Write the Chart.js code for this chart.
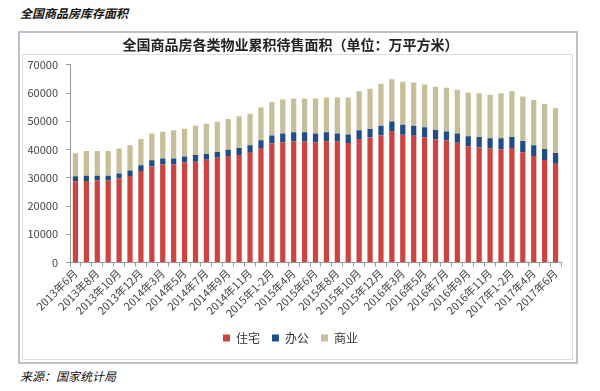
<!DOCTYPE html>
<html>
<head>
<meta charset="utf-8">
<script src="https://cdn.jsdelivr.net/npm/chart.js@4"></script>
<style>
  body { margin: 0; background: #fff; width: 600px; height: 391px; position: relative; overflow: hidden;
         font-family: 'Noto Sans CJK SC', sans-serif; }
  #heading { position: absolute; left: 20px; top: 4px; font-size: 12px; font-weight: bold; font-style: italic; color: #111; }
  #frame { position: absolute; left: 18px; top: 31px; width: 556px; height: 329px; border: 2px solid #b9c1cd; }
  #inner { position: absolute; left: 22px; top: 54px; width: 549px; height: 304px; border: 1px solid #dcdcdc; pointer-events: none; }
  #wrap { position: absolute; left: 20px; top: 33px; width: 556px; height: 329px; }
  #source { position: absolute; left: 20px; top: 367px; font-size: 12px; font-style: italic; color: #111; }
</style>
</head>
<body>
<div id="heading">全国商品房库存面积</div>
<div id="frame"></div>
<div id="inner"></div>
<div id="wrap"><canvas id="stockChart"></canvas></div>
<div id="source">来源：国家统计局</div>
<script>
const months = [
    '2013年6月', '2013年7月', '2013年8月', '2013年9月', '2013年10月', '2013年11月', '2013年12月',
    '2014年1-2月', '2014年3月', '2014年4月', '2014年5月', '2014年6月', '2014年7月', '2014年8月',
    '2014年9月', '2014年10月', '2014年11月', '2014年12月',
    '2015年1-2月', '2015年3月', '2015年4月', '2015年5月', '2015年6月', '2015年7月', '2015年8月',
    '2015年9月', '2015年10月', '2015年11月', '2015年12月',
    '2016年1-2月', '2016年3月', '2016年4月', '2016年5月', '2016年6月', '2016年7月', '2016年8月',
    '2016年9月', '2016年10月', '2016年11月', '2016年12月',
    '2017年1-2月', '2017年3月', '2017年4月', '2017年5月', '2017年6月'
];

// 住宅
const housing = [
    28800, 28900, 29000, 29000, 29750, 30600, 32400,
    34000, 34700, 34700, 35400, 35700, 36400, 37100,
    37700, 38100, 39100, 40500,
    42100, 42600, 42900, 42900, 42600, 42900, 42900,
    42300, 43700, 44300, 45000,
    46600, 45200, 44900, 44300, 43600, 43200, 42400,
    41200, 40700, 40400, 40100,
    40500, 39000, 37700, 36300, 35000
];

// 办公
const office = [
    1770, 1800, 1700, 1700, 1750, 2000, 2000,
    2200, 2100, 2100, 2100, 2400, 2000, 2000,
    2200, 2400, 2400, 2800,
    2900, 3100, 3200, 3200, 3100, 3200, 2800,
    3000, 3100, 3000, 3400,
    3300, 3600, 3500, 3600, 3300, 3200, 3300,
    3500, 3700, 3600, 3900,
    3900, 4000, 3800, 3900, 3800
];

// 商业
const commercial = [
    8130, 8800, 8800, 8800, 8900, 8900, 9300,
    9500, 9500, 10000, 9900, 10300, 10700, 10700,
    10900, 11300, 11200, 11600,
    11800, 12000, 12000, 12000, 12400, 12300, 12700,
    13100, 13800, 14200, 14900,
    15000, 15200, 15300, 15100, 15300, 15500, 15500,
    15500, 15500, 15400, 15900,
    16200, 15800, 16000, 15900, 15800
];

const yTicks = [0, 10000, 20000, 30000, 40000, 50000, 60000, 70000];

const fontFamily = "'Noto Sans CJK SC', sans-serif";

new Chart(document.getElementById('stockChart'), {
    type: 'bar',
    data: {
        labels: months,
        datasets: [
            { label: '住宅', data: housing, backgroundColor: '#cb4440' },
            { label: '办公', data: office, backgroundColor: '#1f4d87' },
            { label: '商业', data: commercial, backgroundColor: '#c6bf98' }
        ]
    },
    options: {
        responsive: true,
        maintainAspectRatio: false,
        animation: false,
        datasets: {
            bar: { categoryPercentage: 1, barPercentage: 0.48 }
        },
        layout: {
            padding: { left: 0, right: 15, top: 0, bottom: 8 }
        },
        plugins: {
            title: {
                display: true,
                text: '全国商品房各类物业累积待售面积（单位：万平方米）',
                color: '#222',
                font: { family: fontFamily, size: 14, weight: 'bold' },
                padding: { top: 3, bottom: 12 }
            },
            legend: {
                position: 'bottom',
                labels: {
                    boxWidth: 7,
                    boxHeight: 7,
                    padding: 12,
                    color: '#333',
                    font: { family: fontFamily, size: 12 }
                }
            },
            tooltip: { enabled: false }
        },
        scales: {
            x: {
                stacked: true,
                grid: {
                    display: true,
                    drawOnChartArea: false,
                    offset: true,
                    tickLength: 4,
                    color: '#999'
                },
                border: { color: '#999' },
                ticks: {
                    autoSkip: false,
                    maxRotation: 45,
                    minRotation: 45,
                    padding: 0,
                    color: '#444',
                    font: { family: fontFamily, size: 11 },
                    callback: function(value, index) {
                        return index % 2 === 0 ? months[index] : '';
                    }
                }
            },
            y: {
                stacked: true,
                min: 0,
                max: 70000,
                afterBuildTicks: function(axis) {
                    axis.ticks = yTicks.map(v => ({ value: v }));
                },
                afterFit: function(axis) {
                    axis.width = 50;
                },
                grid: {
                    display: true,
                    drawOnChartArea: false,
                    tickLength: 4,
                    color: '#999'
                },
                border: { color: '#999' },
                ticks: {
                    padding: 8,
                    color: '#444',
                    font: { family: fontFamily, size: 11 },
                    callback: function(value) {
                        return String(value);
                    }
                }
            }
        }
    }
});
</script>
</body>
</html>
